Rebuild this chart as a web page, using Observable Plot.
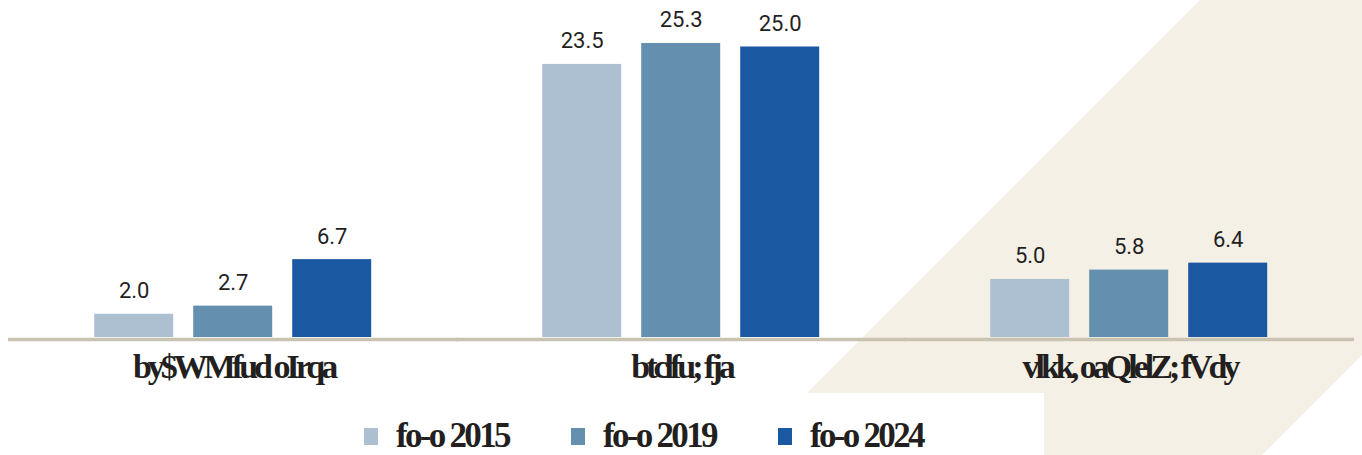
<!DOCTYPE html>
<html><head><meta charset="utf-8">
<script src="https://cdn.jsdelivr.net/npm/d3@7"></script>
<script src="https://cdn.jsdelivr.net/npm/@observablehq/plot@0.6"></script>
<style>
html,body{margin:0;padding:0;background:#fff;}
#wrap{position:relative;width:1362px;height:455px;overflow:hidden;}
#bg{position:absolute;left:0;top:0;width:1362px;height:455px;background:#f4f0e6;
  clip-path:polygon(1200px 0,1362px 0,1362px 355px,1262px 455px,1044px 455px,1044px 393px,807px 393px);}
#chart{position:absolute;left:0;top:0;}
#legend{position:absolute;left:0;top:418px;width:1362px;height:36px;}
#legend .lg-swatches{margin:0 !important;padding-left:364px !important;font-family:"Liberation Serif",serif !important;
  font-weight:700 !important;font-size:35px !important;line-height:36px !important;color:#231f20 !important;letter-spacing:-2.7px;
  display:flex !important;align-items:center;min-height:36px !important;height:36px;}
#legend .lg-swatch{margin:0 !important;width:207px;display:inline-flex !important;align-items:center;white-space:nowrap;line-height:36px;}
#legend .lg-swatch > svg{margin-right:18px !important;}
</style></head><body>
<div id="wrap"><div id="bg"></div><div id="chart"></div><div id="legend"></div></div>
<script>
const categories = ["by$WMfud oIrqa", "btclfu; fja", "vlkk, oaQlelZ; fVdy"];
const years = ["fo-o 2015", "fo-o 2019", "fo-o 2024"];
const v2015 = [2.0, 23.5, 5.0];
const v2019 = [2.7, 25.3, 5.8];
const v2024 = [6.7, 25.0, 6.4];
const colors = ["#adc0d2", "#658fae", "#1a59a2"];

const series = [v2015, v2019, v2024];
const data = categories.flatMap((c, i) => years.map((y, j) => ({category: c, year: y, value: series[j][i]})));

const chart = Plot.plot({
  width: 1362, height: 412,
  marginTop: 0, marginLeft: 72.8, marginRight: 73.3, marginBottom: 75,
  style: {background: "transparent", overflow: "visible"},
  fx: {domain: categories, paddingInner: 0.291, paddingOuter: 0, axis: null, label: null},
  x: {domain: years, padding: 0.2, axis: null},
  y: {domain: [0, 29], axis: null},
  color: {domain: years, range: colors},
  marks: [
    Plot.ruleY([0], {stroke: "#c9c3b2", strokeWidth: 3.6, dy: 2, insetLeft: -66, insetRight: -66}),
    Plot.barY(data, {fx: "category", x: "year", y: "value", fill: "year"}),
    Plot.text(data, {fx: "category", x: "year", y: "value", text: d => d.value.toFixed(1),
      dy: -16, lineAnchor: "bottom", fontSize: 22, fontFamily: "Roboto", fill: "#1f1f1f"}),
    Plot.text(categories, {fx: d => d, text: d => d, frameAnchor: "bottom", dy: 40, lineAnchor: "bottom",
      fontSize: 34, fontWeight: "bold", fontFamily: "Liberation Serif", fill: "#231f20"})
  ]
});
d3.select(chart).selectAll("text").filter(function() { return categories.includes(this.textContent); })
  .style("letter-spacing", "-4px");
document.getElementById("chart").appendChild(chart);
const lg = chart.legend("color", {className: "lg", swatchWidth: 14, swatchHeight: 17});
document.getElementById("legend").appendChild(lg);
</script>
</body></html>
